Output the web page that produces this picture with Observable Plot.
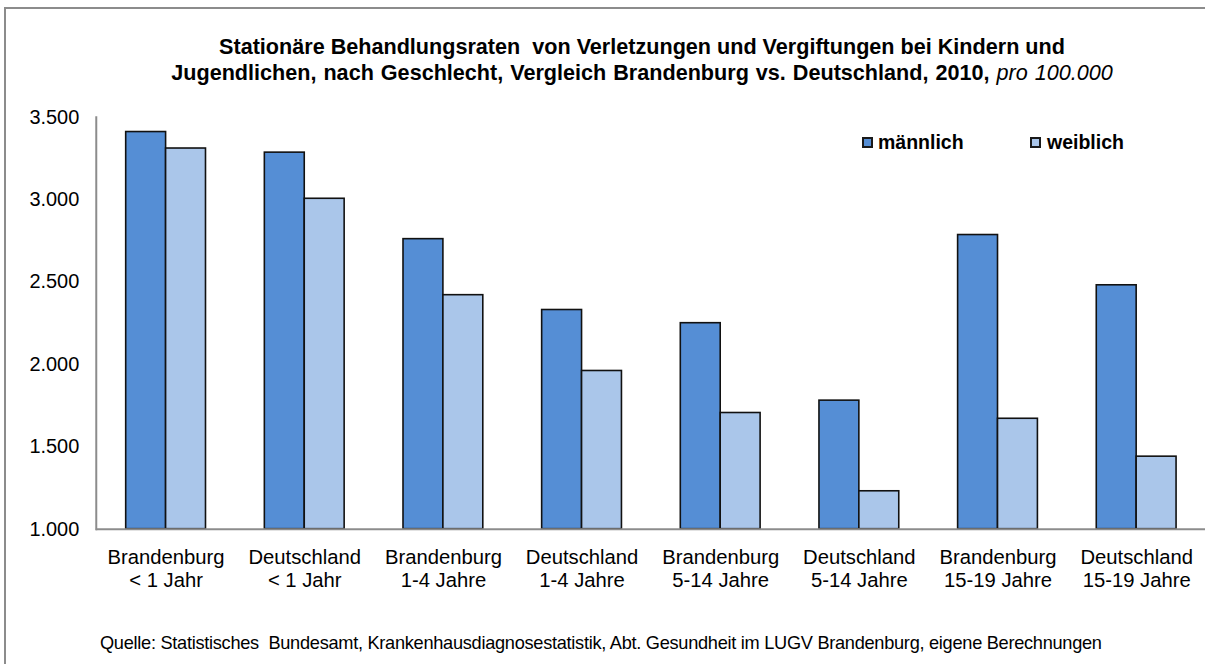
<!DOCTYPE html>
<html>
<head>
<meta charset="utf-8">
<script src="https://cdn.jsdelivr.net/npm/d3@7"></script>
<script src="https://cdn.jsdelivr.net/npm/@observablehq/plot@0.6"></script>
<style>
  html, body { margin: 0; padding: 0; background: #fff; overflow: hidden; }
  body { width: 1205px; height: 664px; position: relative; font-family: "Liberation Sans", Arial, sans-serif; color: #000; }
  #frame { position: absolute; left: 4px; top: 7px; width: 1300px; height: 800px; border-left: 2px solid #8c8c8c; border-top: 2px solid #8c8c8c; box-sizing: border-box; }
  #chart { position: absolute; left: 0; top: 0; }
  .title { position: absolute; left: 0; width: 1284px; text-align: center; font-weight: bold; font-size: 21.6px; white-space: pre; line-height: 1; }
  .title i { font-weight: normal; }
  .leg { position: absolute; font-weight: bold; font-size: 19.5px; line-height: 1; white-space: pre; }
  .sw { position: absolute; width: 11px; height: 11px; box-sizing: border-box; border: 2px solid #1a1a1a; }
  #caption { position: absolute; left: 100px; top: 634px; font-size: 18.2px; line-height: 1; white-space: pre; letter-spacing: -0.28px; }
</style>
</head>
<body>
<div id="frame"></div>
<div id="chart"></div>
<div class="title" id="t1" style="top:36px">Stationäre Behandlungsraten  von Verletzungen und Vergiftungen bei Kindern und</div>
<div class="title" id="t2" style="top:62px;word-spacing:1px">Jugendlichen, nach Geschlecht, Vergleich Brandenburg vs. Deutschland, 2010, <i>pro 100.000</i></div>
<div class="sw" style="left:862px; top:137px; background:#558ed5"></div>
<div class="leg" style="left:878px; top:133px">männlich</div>
<div class="sw" style="left:1030px; top:137px; background:#aac6ea"></div>
<div class="leg" style="left:1047px; top:133px">weiblich</div>
<div id="caption">Quelle: Statistisches  Bundesamt, Krankenhausdiagnosestatistik, Abt. Gesundheit im LUGV Brandenburg, eigene Berechnungen</div>
<script>
const categories = ["Brandenburg\n< 1 Jahr", "Deutschland\n< 1 Jahr", "Brandenburg\n1-4 Jahre", "Deutschland\n1-4 Jahre", "Brandenburg\n5-14 Jahre", "Deutschland\n5-14 Jahre", "Brandenburg\n15-19 Jahre", "Deutschland\n15-19 Jahre"];
const maennlich = [3410, 3285, 2760, 2330, 2250, 1780, 2785, 2480];
const weiblich = [3310, 3005, 2420, 1960, 1705, 1230, 1670, 1440];
const yTicks = [1000, 1500, 2000, 2500, 3000, 3500];
const seriesNames = ["männlich", "weiblich"];
const seriesColors = ["#558ed5", "#aac6ea"];

const rows = [];
categories.forEach((c, i) => {
  rows.push({cat: c, sex: seriesNames[0], v: maennlich[i]});
  rows.push({cat: c, sex: seriesNames[1], v: weiblich[i]});
});
const fmt = v => d3.format(",")(v).replace(/,/g, ".");

const chart = Plot.plot({
  width: 1208,
  height: 664,
  marginLeft: 96,
  marginRight: 0,
  marginTop: 117,
  marginBottom: 134,
  style: {fontFamily: '"Liberation Sans", Arial, sans-serif', background: "transparent", overflow: "visible"},
  x: {domain: categories, paddingInner: 0.4245, paddingOuter: 0.21225, axis: null},
  y: {domain: [1000, 3500], ticks: yTicks, axis: null, label: null},
  color: {domain: seriesNames, range: seriesColors},
  marks: [
    Plot.barY(rows.filter(d => d.sex === seriesNames[0]), {x: "cat", y1: 1000, y2: "v", fill: seriesColors[0], stroke: "#111", strokeWidth: 1.6, insetRight: 40}),
    Plot.barY(rows.filter(d => d.sex === seriesNames[1]), {x: "cat", y1: 1000, y2: "v", fill: seriesColors[1], stroke: "#111", strokeWidth: 1.6, insetLeft: 40}),
    Plot.frame({anchor: "left", stroke: "#8c8c8c", strokeWidth: 2}),
    Plot.ruleY([1000], {stroke: "#8c8c8c", strokeWidth: 2}),
    Plot.axisY({ticks: yTicks, tickSize: 0, tickPadding: 17, tickFormat: fmt, fontSize: 20, fill: "#000", label: null}),
    Plot.text(categories, {x: d => d, text: d => d, frameAnchor: "bottom", lineAnchor: "top", dy: 18.5, lineHeight: 1.15, fontSize: 20.3, fill: "#000"})
  ]
});
document.getElementById("chart").appendChild(chart);
</script>
</body>
</html>
